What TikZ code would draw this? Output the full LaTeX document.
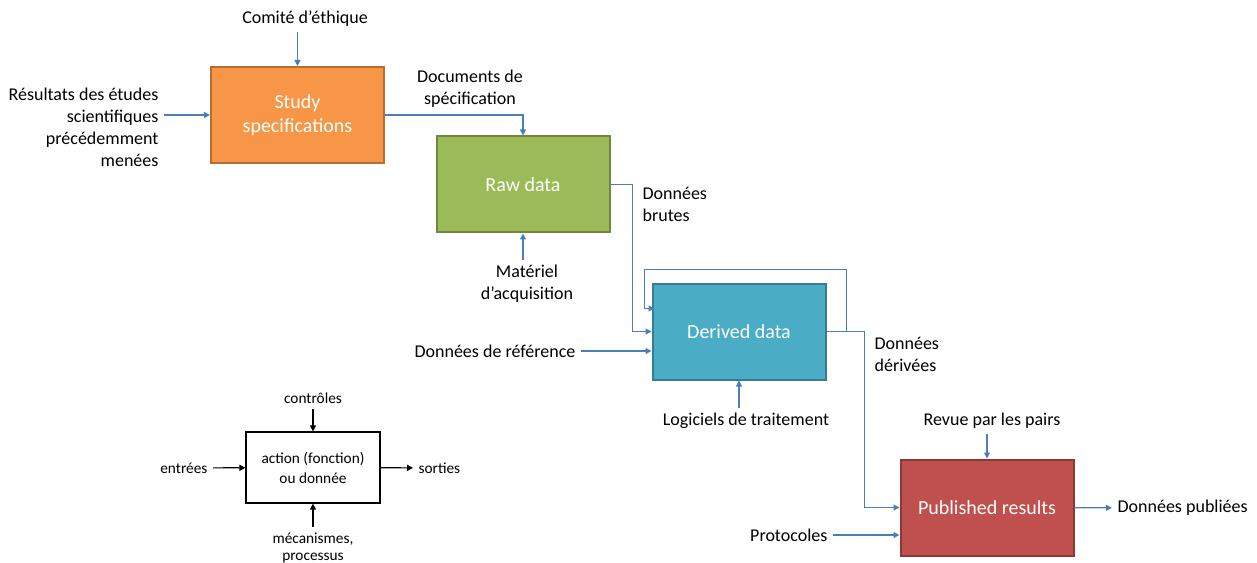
\documentclass[tikz,border=0pt]{standalone}
\usepackage{fontspec}
\setmainfont{Carlito}
\usetikzlibrary{arrows.meta}
\definecolor{flowblue}{HTML}{4A7EBB}
\definecolor{specfill}{HTML}{F79646}\definecolor{specdraw}{HTML}{B66D31}
\definecolor{rawfill}{HTML}{9BBB59}\definecolor{rawdraw}{HTML}{71893F}
\definecolor{derfill}{HTML}{4BACC6}\definecolor{derdraw}{HTML}{357D91}
\definecolor{pubfill}{HTML}{C0504D}\definecolor{pubdraw}{HTML}{8C3836}
\begin{document}
\begin{tikzpicture}[x=.75pt,y=-.75pt,
 stage/.style={draw,line width=1.5pt,minimum width=129.75pt,minimum height=72pt,
  align=center,text=white,font=\fontsize{15}{18}\selectfont},
 lab/.style={inner sep=4pt,font=\fontsize{13.5}{16.5}\selectfont},
 leg/.style={inner sep=4pt,font=\fontsize{11.5}{13}\selectfont},
 flow/.style={draw=flowblue,line width=.9pt,-{Triangle[length=4.5pt,width=4.5pt]}},
 legflow/.style={draw=black,line width=.9pt,-{Triangle[length=4.5pt,width=4.5pt]}}]
 \useasboundingbox (0,0) rectangle (1257,563);
 \node[stage,fill=specfill,draw=specdraw] (spec) at (297.5,115) {Study\\specifications};
 \node[stage,fill=rawfill,draw=rawdraw] (raw) at (523,184.5) {Raw data};
 \node[stage,fill=derfill,draw=derdraw] (derived) at (739,331.5) {Derived data};
 \node[stage,fill=pubfill,draw=pubdraw] (pub) at (987,507.5) {Published results};
 \node[lab] (comite) at (305,19) {Comité d’éthique};
 \node[lab,anchor=east,align=right] (resultats) at (164,127) {Résultats des études\\scientifiques\\précédemment\\menées};
 \node[lab,align=center] (docs) at (470,89) {Documents de\\spécification};
 \node[lab,align=center] (materiel) at (527,284) {Matériel\\d’acquisition};
 \node[lab,anchor=west,align=left] (brutes) at (637,204) {Données\\brutes};
 \node[lab,anchor=east] (reference) at (581,351) {Données de référence};
 \node[lab] (logiciels) at (746,421) {Logiciels de traitement};
 \node[lab,anchor=west,align=left] (derivees) at (869,354) {Données\\dérivées};
 \node[lab] (revue) at (992,421) {Revue par les pairs};
 \node[lab,anchor=east] (protocoles) at (833,535) {Protocoles};
 \node[lab,anchor=west] (publiees) at (1112,508) {Données publiées};
 \draw[flow] (comite.south -| spec) -- (spec);
 \draw[flow] (resultats.east |- spec) -- (spec);
 \draw[flow] (spec.east) -| (raw.north);
 \draw[flow] (materiel.north -| raw) -- (raw);
 \draw[flow] (raw.east) -- ++(22,0) |- (derived.west);
 \draw[flow] (derived.east) -- ++(20,0) -- ++(0,-62) -- ++(-202,0) -- ++(0,39) -- ++(10,0);
 \draw[flow] (reference.east) -- (reference.east -| derived.west);
 \draw[flow] (logiciels.north -| derived) -- (derived);
 \draw[flow] (derived.east) -- ++(38,0) |- (pub.west);
 \draw[flow] (revue.south -| pub) -- (pub);
 \draw[flow] (protocoles.east) -- (protocoles.east -| pub.west);
 \draw[flow] (pub) -- (publiees);
 \node[draw,line width=.9pt,minimum width=100.5pt,minimum height=53.25pt,align=center,
  font=\fontsize{11.5}{15}\selectfont] (act) at (313,467.5) {action (fonction)\\ou donnée};
 \node[leg] (controles) at (313,398) {contrôles};
 \node[leg,anchor=east] (entrees) at (213,468) {entrées};
 \node[leg,anchor=west] (sorties) at (413,468) {sorties};
 \node[leg,align=center] (mecanismes) at (313,548) {mécanismes,\\processus};
 \draw[legflow] (controles) -- (act);
 \draw[legflow] (entrees) -- (act);
 \draw[legflow] (act) -- (sorties);
 \draw[legflow] (mecanismes) -- (act);
\end{tikzpicture}
\end{document}
